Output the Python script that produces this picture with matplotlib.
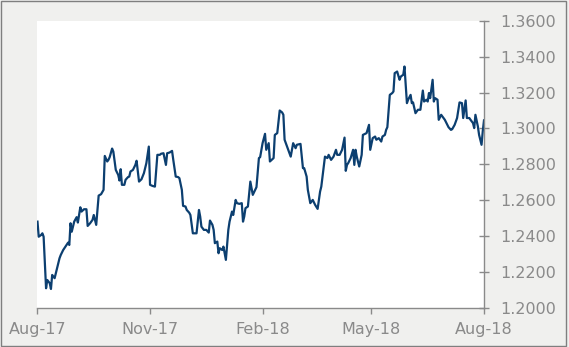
import matplotlib
matplotlib.use('Agg')
import matplotlib.pyplot as plt
from matplotlib.patches import Rectangle
import numpy as np

# days after 1 Aug 2017 and the rate read at each point
start = np.datetime64('2017-08-01')
day_offset = [
    0, 1, 3, 4, 5, 7, 8, 10, 11, 12, 14, 16, 18, 19, 21, 22, 25, 26, 27, 28,
    30, 32, 33, 35, 36, 38, 40, 41, 43, 45, 46, 48, 50, 52, 54, 55, 57, 58, 59, 61,
    62, 64, 66, 67, 68, 69, 71, 72, 74, 75, 76, 78, 80, 81, 83, 85, 87, 89, 91, 92,
    94, 96, 98, 100, 101, 103, 105, 106, 108, 110, 111, 113, 115, 116, 118, 119, 121, 122, 124, 125,
    127, 128, 130, 132, 133, 134, 136, 138, 140, 141, 143, 144, 145, 147, 148, 149, 151, 152, 154, 156,
    157, 159, 160, 162, 163, 165, 167, 168, 169, 170, 172, 174, 176, 178, 179, 181, 182, 184, 186, 187,
    189, 190, 192, 193, 194, 196, 198, 200, 201, 202, 204, 205, 207, 209, 211, 212, 215, 217, 218, 220,
    221, 223, 225, 227, 229, 231, 232, 234, 235, 237, 238, 240, 242, 244, 245, 247, 249, 251, 252, 253,
    254, 256, 258, 259, 260, 261, 263, 265, 266, 269, 271, 272, 274, 276, 277, 279, 281, 282, 284, 285,
    286, 288, 290, 291, 292, 294, 296, 297, 299, 300, 302, 303, 305, 306, 307, 309, 311, 313, 315, 316,
    318, 319, 320, 321, 323, 324, 325, 327, 328, 330, 332, 333, 335, 336, 338, 339, 341, 343, 345, 347,
    348, 350, 351, 353, 354, 356, 357, 358, 360, 361, 363, 364, 365,
]
rate = [
    1.2481, 1.2397, 1.2407, 1.2416, 1.2397, 1.2110, 1.2156, 1.2138, 1.2106, 1.2184,
    1.2166, 1.2221, 1.2277, 1.2295, 1.2323, 1.2333, 1.2364, 1.2351, 1.2472, 1.2425,
    1.2481, 1.2506, 1.2476, 1.2561, 1.2537, 1.2550, 1.2550, 1.2457, 1.2472, 1.2491,
    1.2518, 1.2463, 1.2626, 1.2634, 1.2658, 1.2847, 1.2816, 1.2825, 1.2840, 1.2888,
    1.2871, 1.2769, 1.2741, 1.2710, 1.2773, 1.2686, 1.2686, 1.2714, 1.2729, 1.2732,
    1.2760, 1.2769, 1.2797, 1.2820, 1.2704, 1.2717, 1.2751, 1.2807, 1.2899, 1.2686,
    1.2680, 1.2676, 1.2853, 1.2853, 1.2859, 1.2862, 1.2797, 1.2862, 1.2866, 1.2875,
    1.2825, 1.2732, 1.2729, 1.2723, 1.2658, 1.2569, 1.2565, 1.2546, 1.2531, 1.2518,
    1.2416, 1.2416, 1.2416, 1.2546, 1.2509, 1.2453, 1.2435, 1.2435, 1.2420, 1.2487,
    1.2463, 1.2435, 1.2361, 1.2370, 1.2305, 1.2333, 1.2323, 1.2342, 1.2268, 1.2435,
    1.2481, 1.2537, 1.2518, 1.2602, 1.2584, 1.2580, 1.2584, 1.2481, 1.2509, 1.2556,
    1.2565, 1.2704, 1.2630, 1.2658, 1.2673, 1.2835, 1.2840, 1.2918, 1.2970, 1.2881,
    1.2918, 1.2816, 1.2829, 1.2835, 1.2964, 1.2974, 1.3100, 1.3089, 1.3076, 1.2937,
    1.2899, 1.2881, 1.2843, 1.2918, 1.2890, 1.2909, 1.2914, 1.2779, 1.2779, 1.2732,
    1.2658, 1.2584, 1.2602, 1.2574, 1.2552, 1.2648, 1.2676, 1.2788, 1.2843, 1.2835,
    1.2853, 1.2825, 1.2843, 1.2881, 1.2853, 1.2853, 1.2881, 1.2949, 1.2764, 1.2797,
    1.2807, 1.2835, 1.2881, 1.2797, 1.2881, 1.2843, 1.2788, 1.2853, 1.2964, 1.2974,
    1.3020, 1.2881, 1.2946, 1.2955, 1.2937, 1.2946, 1.2927, 1.2955, 1.2964, 1.2992,
    1.3007, 1.3187, 1.3197, 1.3206, 1.3308, 1.3317, 1.3271, 1.3289, 1.3299, 1.3345,
    1.3141, 1.3160, 1.3187, 1.3141, 1.3145, 1.3085, 1.3104, 1.3104, 1.3211, 1.3150,
    1.3160, 1.3150, 1.3197, 1.3169, 1.3271, 1.3150, 1.3169, 1.3160, 1.3048, 1.3076,
    1.3058, 1.3048, 1.3020, 1.3007, 1.2992, 1.2996, 1.3020, 1.3058, 1.3145, 1.3141,
    1.3058, 1.3156, 1.3058, 1.3058, 1.3048, 1.3030, 1.3002, 1.3076, 1.3011, 1.2964,
    1.2909, 1.2985, 1.3045,
]
tick_dates = ['2017-08-01', '2017-11-01', '2018-02-01', '2018-05-01', '2018-08-01']
tick_labels = ['Aug-17', 'Nov-17', 'Feb-18', 'May-18', 'Aug-18']
y_ticks = [1.20, 1.22, 1.24, 1.26, 1.28, 1.30, 1.32, 1.34, 1.36]

dates = start + np.array(day_offset).astype('timedelta64[D]')
grey = '#8a8a8a'

fig = plt.figure(figsize=(5.69, 3.47), dpi=100, facecolor='#f0f0ee')
ax = fig.add_axes([0.0659, 0.1124, 0.7847, 0.8279])
ax.plot(dates, rate, color='#0c3f70', lw=1.6)

ax.set_xlim(np.datetime64(tick_dates[0]), np.datetime64(tick_dates[-1]))
ax.set_ylim(1.20, 1.36)
ax.set_xticks([np.datetime64(d) for d in tick_dates])
ax.set_xticklabels(tick_labels)
ax.set_yticks(y_ticks)
ax.set_yticklabels(['%.4f' % v for v in y_ticks])

ax.yaxis.tick_right()
for s in ['left', 'top']:
    ax.spines[s].set_visible(False)
for s in ['right', 'bottom']:
    ax.spines[s].set_color(grey)
    ax.spines[s].set_linewidth(1.0)
ax.tick_params(axis='y', direction='inout', length=7, width=1, color=grey,
               labelcolor=grey, labelsize=11.5, pad=8)
ax.tick_params(axis='x', direction='out', length=4, width=1, color=grey,
               labelcolor=grey, labelsize=11.5, pad=6)

# thin frame round the picture, set a little in from the right and bottom
fig.patches.append(Rectangle((0.001, 0.004), 0.993, 0.994, transform=fig.transFigure,
                             fill=False, edgecolor='#7f7f7f', lw=1.0))

fig.savefig('out.png', dpi=100, facecolor=fig.get_facecolor())
